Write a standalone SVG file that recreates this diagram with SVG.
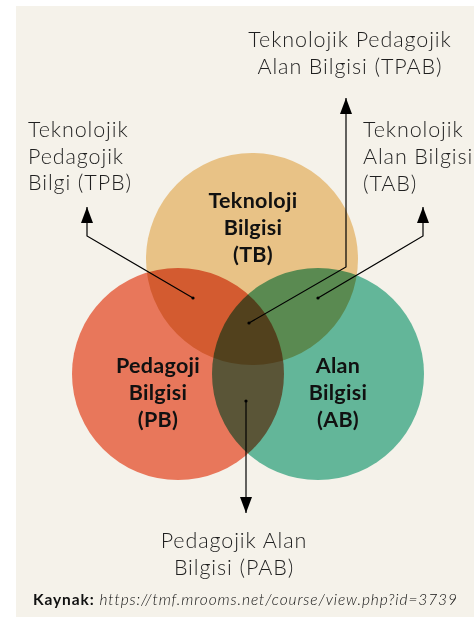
<svg xmlns="http://www.w3.org/2000/svg" width="474" height="625" viewBox="0 0 474 625">
  <style>
    .lbl { font-family: Lato, "Liberation Sans", sans-serif; font-weight: 300; font-size: 21.5px; letter-spacing: 0.9px; fill: #1f1f1f; }
    .bold { font-family: Lato, "Liberation Sans", sans-serif; font-weight: 700; font-size: 21.5px; letter-spacing: 0.3px; fill: #111; text-anchor: middle; }
    .mid { text-anchor: middle; }
    .conn { fill: none; stroke: #000; stroke-width: 1.2; }
    .dot { fill: #000; }
    .circ { mix-blend-mode: multiply; }
    .src { font-family: Lato, "Liberation Sans", sans-serif; font-size: 15.5px; letter-spacing: 0.9px; fill: #111; }
  </style>
  <defs>
    <marker id="arrow" markerUnits="userSpaceOnUse" markerWidth="16" markerHeight="12" refX="16" refY="6" orient="auto">
      <path d="M0,0 L16,6 L0,12 Z" fill="#000"/>
    </marker>
  </defs>
  <rect x="0" y="0" width="474" height="625" fill="#ffffff"/>
  <rect x="16" y="6" width="458" height="611" fill="#F5F2EA"/>

  <g id="venn" style="isolation:isolate">
    <g id="node-tb"><circle class="circ" cx="252" cy="259" r="106" fill="#E8C286"/></g>
    <g id="node-pb"><circle class="circ" cx="178" cy="374" r="106" fill="#E8775B"/></g>
    <g id="node-ab"><circle class="circ" cx="318" cy="374" r="106" fill="#63B699"/></g>
  </g>

  <g id="node-tb-label">
    <text class="bold" x="253" y="208">Teknoloji</text>
    <text class="bold" x="253" y="235">Bilgisi</text>
    <text class="bold" x="253" y="262">(TB)</text>
  </g>
  <g id="node-pb-label">
    <text class="bold" x="158" y="373">Pedagoji</text>
    <text class="bold" x="158" y="400">Bilgisi</text>
    <text class="bold" x="158" y="427">(PB)</text>
  </g>
  <g id="node-ab-label">
    <text class="bold" x="338" y="373">Alan</text>
    <text class="bold" x="338" y="400">Bilgisi</text>
    <text class="bold" x="338" y="427">(AB)</text>
  </g>

  <g id="connectors">
    <polyline class="conn" points="193,298 87,236 87,207" marker-end="url(#arrow)"/>
    <polyline class="conn" points="318,298 423,236 423,207" marker-end="url(#arrow)"/>
    <polyline class="conn" points="249,323 346,267 346,98" marker-end="url(#arrow)"/>
    <polyline class="conn" points="246,401 246,513" marker-end="url(#arrow)"/>
    <circle class="dot" cx="193" cy="298" r="1.6"/>
    <circle class="dot" cx="318" cy="298" r="1.6"/>
    <circle class="dot" cx="249" cy="323" r="1.6"/>
    <circle class="dot" cx="246" cy="401" r="1.6"/>
  </g>

  <g id="node-tpab">
    <text class="lbl mid" x="350" y="47">Teknolojik Pedagojik</text>
    <text class="lbl mid" x="350" y="74">Alan Bilgisi (TPAB)</text>
  </g>
  <g id="node-tpb">
    <text class="lbl" x="28" y="137">Teknolojik</text>
    <text class="lbl" x="28" y="164">Pedagojik</text>
    <text class="lbl" x="28" y="190">Bilgi (TPB)</text>
  </g>
  <g id="node-tab">
    <text class="lbl" x="363" y="137">Teknolojik</text>
    <text class="lbl" x="363" y="164">Alan Bilgisi</text>
    <text class="lbl" x="363" y="191">(TAB)</text>
  </g>
  <g id="node-pab">
    <text class="lbl mid" x="234" y="548">Pedagojik Alan</text>
    <text class="lbl mid" x="234" y="575">Bilgisi (PAB)</text>
  </g>
  <g id="source">
    <text class="src" x="33" y="605"><tspan font-weight="700">Kaynak:</tspan> <tspan font-style="italic" font-weight="300">https://tmf.mrooms.net/course/view.php?id=3739</tspan></text>
  </g>
</svg>
